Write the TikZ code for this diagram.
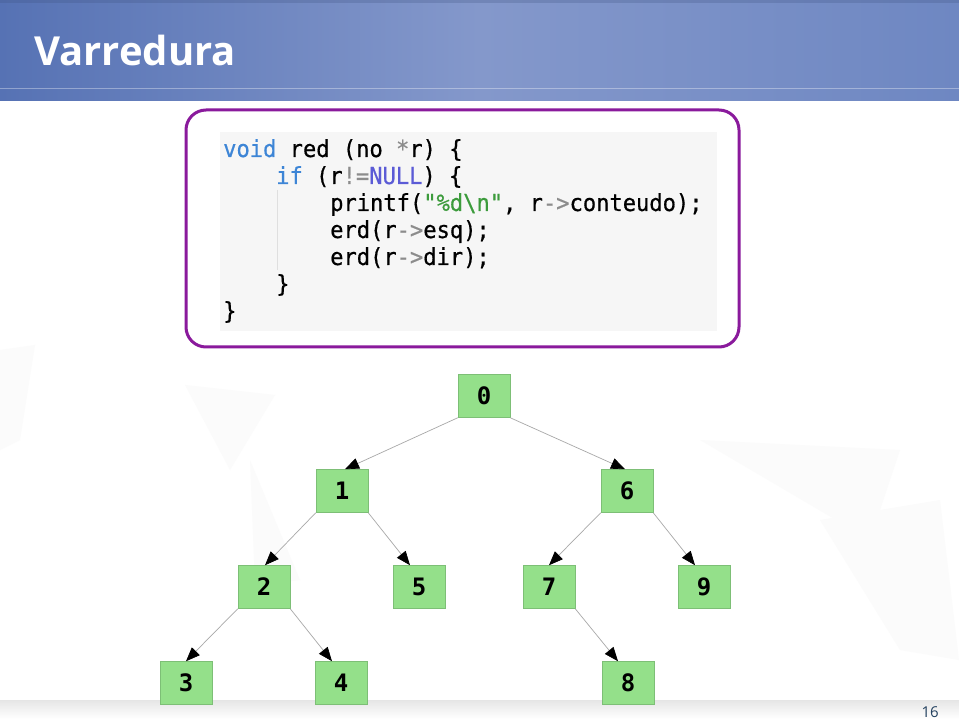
\documentclass[tikz,border=0pt]{standalone}
\usepackage{fontspec}
\setmainfont{Open Sans}
\newfontfamily\codefont{DejaVu Sans Mono}[FakeStretch=0.94,FakeBold=0.6]
\newfontfamily\treefont{DejaVu Sans Mono}
\newfontfamily\titlefont{Open Sans}
\usetikzlibrary{arrows.meta}
\definecolor{hdrL}{HTML}{5672B4}
\definecolor{hdrM}{HTML}{8498CB}
\definecolor{hdrR}{HTML}{6E87C2}
\definecolor{boxpurple}{HTML}{8A1A9C}
\definecolor{codebg}{HTML}{F6F6F6}
\definecolor{kw}{HTML}{3D85D6}
\definecolor{nullc}{HTML}{5B5BD6}
\definecolor{strc}{HTML}{3C9B3C}
\definecolor{opc}{HTML}{8C8C8C}
\definecolor{nodefill}{HTML}{94E08A}
\definecolor{nodedraw}{HTML}{7DBF76}
\definecolor{edgec}{HTML}{A8A8A8}
\definecolor{pagenum}{HTML}{22405F}
\definecolor{faint}{HTML}{FBFBFB}
\tikzset{
  treenode/.style={rectangle, fill=nodefill, draw=nodedraw, line width=0.5pt,
    minimum width=52pt, minimum height=43pt, inner sep=0pt,
    font=\treefont\bfseries\fontsize{24}{26}\selectfont},
  edge/.style={draw=edgec, line width=0.7pt, -{Triangle[length=14pt,width=11pt,fill=black,color=black]}},
  codeline/.style={anchor=base west, inner sep=0pt, font=\codefont\fontsize{23.5}{26}\selectfont}
}
\begin{document}
\begin{tikzpicture}[x=1pt,y=-1pt]
\useasboundingbox (0,0) rectangle (959,719);
\fill[white] (0,0) rectangle (959,719);
% faint background shapes
\fill[faint] (0,350) -- (35,345) -- (20,440) -- (0,450) -- cycle;
\fill[faint] (185,385) -- (275,395) -- (230,470) -- cycle;
\fill[faint] (250,460) -- (300,580) -- (255,585) -- cycle;
\fill[faint] (700,440) -- (900,450) -- (870,540) -- cycle;
\fill[faint] (820,520) -- (940,500) -- (959,660) -- (900,650) -- cycle;
% header
\shade[left color=hdrL, right color=hdrR, middle color=hdrM] (0,0) rectangle (959,101);
\draw[white, opacity=0.35, line width=0.6pt] (0,88) -- (959,88);
\fill[hdrL!70!black, opacity=0.25] (0,0) rectangle (959,3);
\node[anchor=base west, inner sep=0pt, text=white, font=\titlefont\bfseries\fontsize{40}{44}\selectfont] (title) at (34,66) {Varredura};
% footer
\shade[top color=gray!20, bottom color=white] (0,700) rectangle (959,719);
\node[anchor=base east, inner sep=0pt, text=pagenum, font=\fontsize{15}{17}\selectfont] (pg) at (939,717) {16};
% code box
\draw[boxpurple, line width=3pt, rounded corners=20pt, fill=white] (186,110) rectangle (739,347);
\fill[codebg] (220,132) rectangle (717,331);
\draw[gray!25, line width=0.6pt] (277,190) -- (277,270);
\node[codeline] (c1) at (223,157) {\textcolor{kw}{void} red (no \textcolor{opc}{*}r) \{};
\node[codeline] (c2) at (276,184) {\textcolor{kw}{if} (r\textcolor{opc}{!=}\textcolor{nullc}{NULL}) \{};
\node[codeline] (c3) at (330,211) {printf(\textcolor{strc}{"\%d\textbackslash n"}, r\textcolor{opc}{->}conteudo);};
\node[codeline] (c4) at (330,238) {erd(r\textcolor{opc}{->}esq);};
\node[codeline] (c5) at (330,265) {erd(r\textcolor{opc}{->}dir);};
\node[codeline] (c6) at (276,292) {\}};
\node[codeline] (c7) at (223,319) {\}};
% tree
\node[treenode] (n0) at (484,396) {0};
\node[treenode] (n1) at (342,491) {1};
\node[treenode] (n6) at (627,491) {6};
\node[treenode] (n2) at (264,587) {2};
\node[treenode] (n5) at (419,587) {5};
\node[treenode] (n7) at (549,587) {7};
\node[treenode] (n9) at (704,587) {9};
\node[treenode] (n3) at (186,683) {3};
\node[treenode] (n4) at (341,683) {4};
\node[treenode] (n8) at (628,683) {8};
\draw[edge] (n0.south west) -- ([xshift=3pt]n1.north);
\draw[edge] (n0.south east) -- ([xshift=-2pt]n6.north);
\draw[edge] (n1.south west) -- ([xshift=1pt]n2.north);
\draw[edge] (n1.south east) -- ([xshift=-9pt]n5.north);
\draw[edge] (n2.south west) -- (n3.north);
\draw[edge] (n2.south east) -- ([xshift=-9pt]n4.north);
\draw[edge] (n6.south west) -- (n7.north);
\draw[edge] (n6.south east) -- ([xshift=-9pt]n9.north);
\draw[edge] (n7.south east) -- ([xshift=-10pt]n8.north);
\end{tikzpicture}
\end{document}
